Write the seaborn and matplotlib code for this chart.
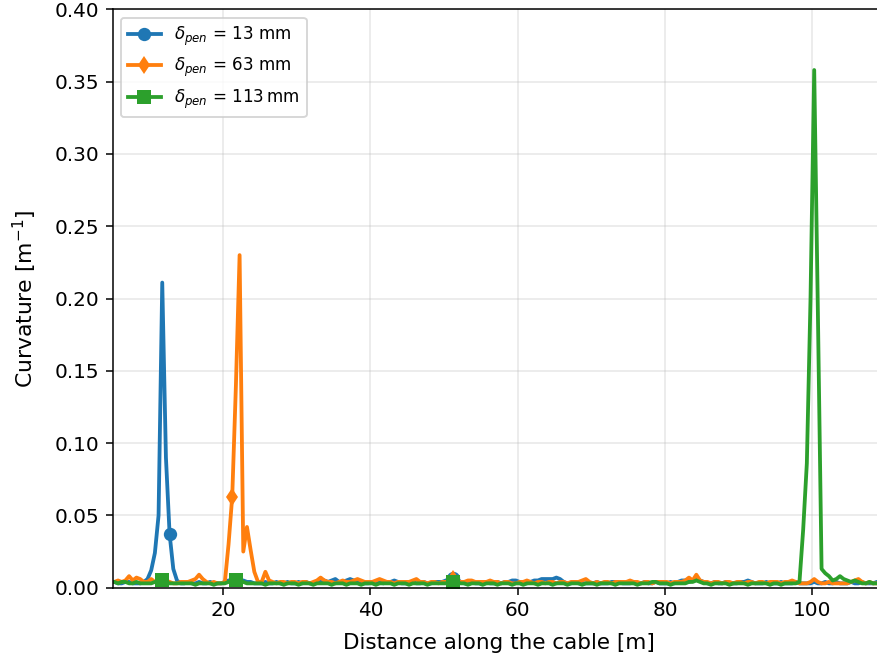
import numpy as np
import pandas as pd
import matplotlib
matplotlib.use("Agg")
import matplotlib.pyplot as plt
import seaborn as sns

# Sampling positions along the cable [m] (0.5 m spacing)
distance = np.arange(211) * 0.5 + 4.75

# Curvature profiles [1/m] for the three penetration depths
curv_13mm = [
    0.004, 0.004, 0.003, 0.003, 0.004, 0.004, 0.003, 0.003, 0.003, 0.004,
    0.006, 0.012, 0.024, 0.050, 0.211, 0.090, 0.037, 0.013, 0.005, 0.003,
    0.003, 0.004, 0.003, 0.003, 0.004, 0.003, 0.003, 0.004, 0.003, 0.003,
    0.003, 0.004, 0.005, 0.005, 0.006, 0.005, 0.005, 0.004, 0.004, 0.003,
    0.003, 0.003, 0.004, 0.003, 0.003, 0.004, 0.003, 0.003, 0.004, 0.003,
    0.003, 0.004, 0.003, 0.004, 0.003, 0.003, 0.004, 0.004, 0.005, 0.004,
    0.005, 0.006, 0.004, 0.004, 0.005, 0.006, 0.005, 0.004, 0.003, 0.003,
    0.003, 0.004, 0.003, 0.004, 0.003, 0.004, 0.004, 0.005, 0.004, 0.003,
    0.003, 0.003, 0.004, 0.003, 0.003, 0.004, 0.003, 0.003, 0.004, 0.004,
    0.004, 0.005, 0.006, 0.007, 0.006, 0.004, 0.003, 0.003, 0.004, 0.003,
    0.003, 0.003, 0.004, 0.003, 0.003, 0.004, 0.003, 0.004, 0.004, 0.005,
    0.005, 0.004, 0.003, 0.003, 0.004, 0.005, 0.005, 0.006, 0.006, 0.006,
    0.006, 0.007, 0.006, 0.004, 0.003, 0.003, 0.004, 0.003, 0.003, 0.003,
    0.003, 0.003, 0.004, 0.003, 0.003, 0.003, 0.004, 0.004, 0.004, 0.003,
    0.003, 0.003, 0.004, 0.003, 0.003, 0.004, 0.003, 0.003, 0.004, 0.003,
    0.003, 0.003, 0.004, 0.003, 0.004, 0.005, 0.005, 0.004, 0.005, 0.006,
    0.005, 0.004, 0.003, 0.003, 0.004, 0.003, 0.003, 0.004, 0.003, 0.003,
    0.003, 0.004, 0.004, 0.005, 0.004, 0.003, 0.003, 0.003, 0.004, 0.003,
    0.003, 0.003, 0.004, 0.003, 0.003, 0.003, 0.004, 0.003, 0.003, 0.003,
    0.003, 0.004, 0.003, 0.003, 0.004, 0.003, 0.003, 0.004, 0.003, 0.003,
    0.003, 0.004, 0.003, 0.003, 0.004, 0.003, 0.003, 0.003, 0.004, 0.003,
    0.003,
]

curv_63mm = [
    0.004, 0.004, 0.005, 0.004, 0.005, 0.008, 0.005, 0.007, 0.006, 0.004,
    0.004, 0.006, 0.004, 0.003, 0.004, 0.005, 0.004, 0.003, 0.003, 0.004,
    0.004, 0.004, 0.005, 0.006, 0.009, 0.006, 0.004, 0.003, 0.004, 0.003,
    0.003, 0.004, 0.030, 0.063, 0.140, 0.230, 0.025, 0.042, 0.026, 0.011,
    0.004, 0.004, 0.011, 0.005, 0.004, 0.003, 0.004, 0.004, 0.003, 0.004,
    0.004, 0.003, 0.004, 0.004, 0.003, 0.004, 0.005, 0.007, 0.005, 0.004,
    0.004, 0.003, 0.004, 0.005, 0.004, 0.004, 0.005, 0.006, 0.005, 0.004,
    0.004, 0.004, 0.005, 0.006, 0.005, 0.004, 0.004, 0.003, 0.004, 0.004,
    0.004, 0.004, 0.005, 0.006, 0.004, 0.004, 0.003, 0.004, 0.004, 0.003,
    0.004, 0.004, 0.005, 0.006, 0.005, 0.004, 0.004, 0.005, 0.005, 0.004,
    0.004, 0.004, 0.004, 0.005, 0.004, 0.004, 0.003, 0.004, 0.004, 0.003,
    0.003, 0.004, 0.004, 0.005, 0.004, 0.003, 0.004, 0.004, 0.003, 0.004,
    0.004, 0.003, 0.004, 0.004, 0.003, 0.004, 0.004, 0.004, 0.005, 0.006,
    0.004, 0.003, 0.004, 0.003, 0.004, 0.004, 0.003, 0.004, 0.004, 0.004,
    0.004, 0.005, 0.004, 0.004, 0.003, 0.004, 0.004, 0.003, 0.004, 0.004,
    0.004, 0.004, 0.003, 0.004, 0.004, 0.004, 0.005, 0.007, 0.005, 0.009,
    0.005, 0.004, 0.004, 0.003, 0.004, 0.004, 0.003, 0.004, 0.004, 0.003,
    0.004, 0.004, 0.003, 0.004, 0.004, 0.003, 0.004, 0.004, 0.003, 0.004,
    0.004, 0.004, 0.003, 0.004, 0.004, 0.005, 0.004, 0.003, 0.003, 0.003,
    0.004, 0.006, 0.004, 0.003, 0.003, 0.004, 0.003, 0.003, 0.003, 0.003,
    0.003, 0.004, 0.005, 0.006, 0.004, 0.003, 0.004, 0.003, 0.003, 0.004,
    0.003,
]

curv_113mm = [
    0.004, 0.004, 0.003, 0.004, 0.004, 0.003, 0.003, 0.004, 0.003, 0.003,
    0.003, 0.003, 0.004, 0.004, 0.005, 0.004, 0.003, 0.003, 0.003, 0.003,
    0.003, 0.003, 0.003, 0.002, 0.003, 0.003, 0.003, 0.003, 0.002, 0.003,
    0.003, 0.003, 0.004, 0.004, 0.005, 0.004, 0.004, 0.003, 0.003, 0.003,
    0.003, 0.003, 0.002, 0.003, 0.003, 0.003, 0.003, 0.002, 0.003, 0.003,
    0.003, 0.002, 0.003, 0.003, 0.003, 0.002, 0.003, 0.003, 0.003, 0.003,
    0.002, 0.003, 0.003, 0.003, 0.002, 0.003, 0.003, 0.003, 0.002, 0.003,
    0.003, 0.003, 0.002, 0.003, 0.003, 0.003, 0.003, 0.002, 0.003, 0.003,
    0.003, 0.002, 0.003, 0.003, 0.003, 0.003, 0.002, 0.003, 0.003, 0.003,
    0.003, 0.003, 0.004, 0.004, 0.004, 0.003, 0.003, 0.002, 0.003, 0.003,
    0.003, 0.002, 0.003, 0.003, 0.003, 0.002, 0.003, 0.003, 0.003, 0.002,
    0.003, 0.003, 0.002, 0.003, 0.003, 0.003, 0.002, 0.003, 0.003, 0.003,
    0.002, 0.003, 0.003, 0.003, 0.002, 0.003, 0.003, 0.003, 0.002, 0.003,
    0.003, 0.003, 0.002, 0.003, 0.003, 0.003, 0.003, 0.002, 0.003, 0.003,
    0.003, 0.003, 0.003, 0.002, 0.003, 0.003, 0.003, 0.004, 0.004, 0.003,
    0.003, 0.003, 0.002, 0.003, 0.003, 0.003, 0.003, 0.004, 0.004, 0.005,
    0.004, 0.003, 0.003, 0.002, 0.003, 0.003, 0.003, 0.003, 0.002, 0.003,
    0.003, 0.003, 0.003, 0.002, 0.003, 0.003, 0.003, 0.003, 0.003, 0.002,
    0.003, 0.003, 0.002, 0.003, 0.003, 0.003, 0.003, 0.004, 0.040, 0.086,
    0.200, 0.358, 0.190, 0.013, 0.010, 0.008, 0.005, 0.006, 0.008, 0.006,
    0.005, 0.004, 0.005, 0.004, 0.003, 0.003, 0.004, 0.003, 0.003, 0.003,
    0.003,
]

series_labels = [
    r"$\delta_{pen}$ = 13 mm",
    r"$\delta_{pen}$ = 63 mm",
    r"$\delta_{pen}$ = 113$\,$mm",
]
series_markers = ["o", "d", "s"]
marker_positions = [[16, 93], [33, 93], [14, 34, 93]]

palette = sns.color_palette("tab10")

fig = plt.figure(figsize=(877 / 137, 664 / 137), dpi=137)
ax = fig.add_axes([0.1283, 0.1149, 0.882, 0.8711])

for i, (values, label, mk, idx) in enumerate(
    zip([curv_13mm, curv_63mm, curv_113mm], series_labels, series_markers, marker_positions)
):
    assert len(values) == len(distance)
    df = pd.DataFrame({"distance": distance, "curvature": values})
    sns.lineplot(
        data=df, x="distance", y="curvature", ax=ax,
        color=palette[i], label=label, marker=mk, markevery=idx,
        markersize=7, linewidth=2.0, markeredgewidth=0,
        estimator=None, sort=False,
    )

ax.set_xlim(5, 110)
ax.set_ylim(0, 0.40)
ax.grid(True, alpha=0.3)
ax.tick_params(labelsize=10.5)
ax.set_xlabel("Distance along the cable [m]", fontsize=11.3, labelpad=7)
ax.set_ylabel(r"Curvature [m$^{-1}$]", fontsize=11.5, labelpad=8)
ax.legend(loc="upper left", fontsize=8.8)

fig.savefig("out.png", dpi=137)
